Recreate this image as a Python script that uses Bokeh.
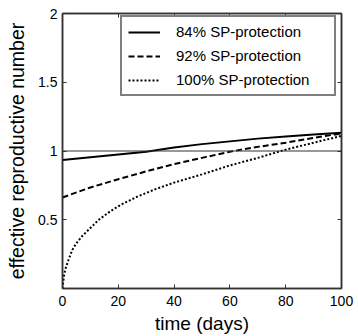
from bokeh.plotting import figure
from bokeh.models import Range1d, FixedTicker, LinearAxis, Span, Legend, LegendItem, CustomJSTickFormatter
from bokeh.embed import file_html
from bokeh.resources import INLINE

# data
time_a = [0, 10, 20, 30, 40, 50, 60, 70, 80, 90, 100]
r_84 = [0.935, 0.955, 0.975, 0.995, 1.025, 1.05, 1.07, 1.09, 1.105, 1.12, 1.133]
r_92 = [0.662, 0.735, 0.795, 0.852, 0.905, 0.95, 0.995, 1.03, 1.06, 1.095, 1.128]
time_b = [0, 0.5, 1, 2, 3.5, 5, 7, 10, 13, 17, 21, 27, 33, 40, 50, 60, 70, 80, 90, 100]
r_100 = [0.0, 0.09, 0.14, 0.2, 0.28, 0.33, 0.38, 0.44, 0.5, 0.56, 0.61, 0.67, 0.72,
         0.77, 0.83, 0.895, 0.95, 1.01, 1.06, 1.11]
labels = ["84% SP-protection", "92% SP-protection", "100% SP-protection"]
x_ticks = [0, 20, 40, 60, 80, 100]
y_ticks = [0.5, 1, 1.5, 2]

FONT = "Liberation Sans"
AX = "#333333"

p = figure(width=358, height=336, output_backend="svg", toolbar_location=None,
           x_range=Range1d(0, 100), y_range=Range1d(0, 2),
           min_border_left=62, min_border_right=17, min_border_top=13, min_border_bottom=47)
p.xgrid.visible = False
p.ygrid.visible = False
p.outline_line_color = AX
p.outline_line_width = 1.5
p.background_fill_color = "white"
p.border_fill_color = "white"

def style_axis(ax, ticks, show_labels):
    ax.ticker = FixedTicker(ticks=ticks)
    ax.major_tick_in = 4
    ax.major_tick_out = 0
    ax.minor_tick_line_color = None
    ax.axis_line_color = AX
    ax.axis_line_width = 1.5
    ax.major_tick_line_color = AX
    ax.major_label_text_font = FONT
    ax.major_label_text_color = "black"
    ax.major_label_text_font_size = "14px"
    if not show_labels:
        ax.formatter = CustomJSTickFormatter(code="return '';")
        ax.major_label_standoff = 0

xa = p.xaxis[0]
ya = p.yaxis[0]
style_axis(xa, x_ticks, True)
style_axis(ya, y_ticks, True)
xa.major_label_standoff = 7
ya.major_label_standoff = 5
xa.axis_label = "time (days)"
ya.axis_label = "effective reproductive number"
for ax in (xa, ya):
    ax.axis_label_text_font = FONT
    ax.axis_label_text_font_style = "normal"
    ax.axis_label_text_color = "black"
xa.axis_label_text_font_size = "19px"
ya.axis_label_text_font_size = "19.5px"
xa.axis_label_standoff = 4
ya.axis_label_standoff = 7

top = LinearAxis()
right = LinearAxis()
style_axis(top, x_ticks, False)
style_axis(right, y_ticks, False)
p.add_layout(top, "above")
p.add_layout(right, "right")

p.add_layout(Span(location=1, dimension="width", line_color=AX, line_width=1.2))

l1 = p.line(time_a, r_84, line_color="black", line_width=2)
l2 = p.line(time_a, r_92, line_color="black", line_width=2, line_dash="6 3")
l3 = p.line(time_b, r_100, line_color="black", line_width=2, line_dash="2 2")

legend = Legend(items=[LegendItem(label=labels[0], renderers=[l1]),
                       LegendItem(label=labels[1], renderers=[l2]),
                       LegendItem(label=labels[2], renderers=[l3])],
                location=(58, 192))
legend.padding = 6
legend.spacing = 7
legend.margin = 0
legend.label_height = 16
legend.glyph_height = 16
legend.glyph_width = 32
legend.label_standoff = 16
legend.label_width = 152
legend.label_text_font = FONT
legend.label_text_font_size = "15px"
legend.label_text_color = "black"
legend.border_line_color = "black"
legend.border_line_width = 2
legend.background_fill_color = "white"
legend.background_fill_alpha = 1
p.add_layout(legend, "center")

open("out.html", "w").write(file_html(p, INLINE))
